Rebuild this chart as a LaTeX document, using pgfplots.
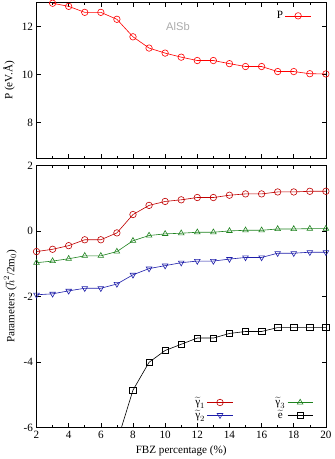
\documentclass[border=0pt]{standalone}
\usepackage{fontspec}
\setmainfont{Liberation Serif}
\newfontfamily\arialf{Liberation Sans}
\usepackage{pgfplots}
\pgfplotsset{compat=1.18}
\usetikzlibrary{calc}
\definecolor{cP}{RGB}{255,0,0}
\definecolor{cg1}{RGB}{192,0,0}
\definecolor{cg2}{RGB}{30,30,170}
\definecolor{cg3}{RGB}{30,130,30}
\definecolor{cAl}{RGB}{170,170,170}

\pgfplotsset{
  panel/.style={
    scale only axis,
    width=286pt,
    xmin=2, xmax=20,
    xtick={2,4,...,20},
    minor x tick num=1,
    tick align=inside,
    major tick length=4pt,
    minor tick length=2.5pt,
    tick style={black, line width=0.5pt},
    axis line style={line width=0.6pt},
    /pgf/number format/assume math mode=true,
    ticklabel style={font=\fontsize{11}{13}\selectfont},
    label style={font=\fontsize{11}{13}\selectfont},
    every axis plot/.append style={line width=0.6pt, mark size=3.2pt},
    legend style={draw=none, fill=none, font=\fontsize{11}{13}\selectfont},
    legend plot pos=right,
    legend image code/.code={
      \draw[mark repeat=2, mark phase=2, #1]
        plot coordinates {(0pt,0pt) (12.5pt,0pt) (25pt,0pt)};
    },
  },
}

\begin{document}
\begin{tikzpicture}
\begin{axis}[
  panel,
  name=top,
  height=154pt,
  ymin=6.5, ymax=13,
  ytick={8,10,12},
  xticklabels={},
  ylabel={P (eV.Å)},
  legend style={at={(0.96,0.97)}, anchor=north east},
]
\addplot[cP, mark=o] coordinates {
  (3,12.97) (4,12.84) (5,12.59) (6,12.59) (7,12.30) (8,11.57)
  (9,11.10) (10,10.89) (11,10.72) (12,10.58) (13,10.58) (14,10.45)
  (15,10.33) (16,10.33) (17,10.12) (18,10.12) (19,10.03) (20,10.02)
};
\addlegendentry{P}
\node[font=\arialf\fontsize{11}{13}\selectfont, text=cAl] at (axis cs:10.8,12.0) {AlSb};
\end{axis}

\begin{axis}[
  panel,
  at={($(top.south west)+(0,-7pt)$)},
  anchor=north west,
  height=259pt,
  ymin=-6, ymax=2,
  ytick={-6,-4,-2,0,2},
  xlabel={FBZ percentage (\%)},
  ylabel={Parameters (\(\hbar^2\)/2m\(_0\))},
  legend columns=2,
  legend style={at={(0.96,0.02)}, anchor=south east,
    /tikz/every even column/.append style={column sep=40pt},
    row sep=1pt, inner sep=1pt,
    nodes={inner ysep=1pt}},
]
\addplot[cg1, mark=o] coordinates {
  (2,-0.63) (3,-0.56) (4,-0.45) (5,-0.27) (6,-0.27) (7,-0.06) (8,0.50)
  (9,0.78) (10,0.90) (11,0.95) (12,1.02) (13,1.02) (14,1.09)
  (15,1.13) (16,1.13) (17,1.19) (18,1.19) (19,1.21) (20,1.21)
};
\addlegendentry{\(\widetilde{\mbox{γ}}_1\)}
\addplot[cg3, mark=triangle] coordinates {
  (2,-0.97) (3,-0.92) (4,-0.85) (5,-0.76) (6,-0.76) (7,-0.63) (8,-0.30)
  (9,-0.14) (10,-0.09) (11,-0.07) (12,-0.04) (13,-0.04) (14,0.00)
  (15,0.02) (16,0.02) (17,0.06) (18,0.06) (19,0.07) (20,0.07)
};
\addlegendentry{\(\widetilde{\mbox{γ}}_3\)}
\addplot[cg2, mark=triangle, mark options={rotate=180}] coordinates {
  (2,-1.95) (3,-1.92) (4,-1.83) (5,-1.75) (6,-1.75) (7,-1.62) (8,-1.34)
  (9,-1.15) (10,-1.06) (11,-0.97) (12,-0.92) (13,-0.92) (14,-0.86)
  (15,-0.81) (16,-0.81) (17,-0.68) (18,-0.68) (19,-0.65) (20,-0.65)
};
\addlegendentry{\(\widetilde{\mbox{γ}}_2\)}
\addplot[black, mark=square] coordinates {
  (7,-6.45) (8,-4.86) (9,-4.01) (10,-3.65) (11,-3.46) (12,-3.27)
  (13,-3.27) (14,-3.13) (15,-3.07) (16,-3.07) (17,-2.95) (18,-2.95)
  (19,-2.95) (20,-2.95)
};
\addlegendentry{\(\widetilde{\mbox{e}}\)}
\end{axis}
\end{tikzpicture}
\end{document}
